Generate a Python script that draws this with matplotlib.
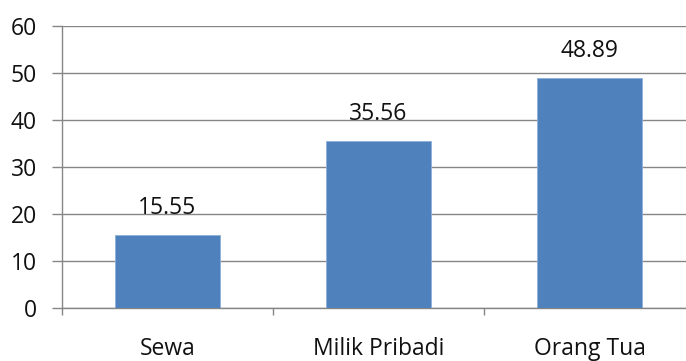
import matplotlib
matplotlib.use('Agg')
import matplotlib.pyplot as plt
import numpy as np

plt.rcParams['font.family'] = ['Open Sans', 'DejaVu Sans']

categories = ['Sewa', 'Milik Pribadi', 'Orang Tua']
values = [15.55, 35.56, 48.89]

W, H = 686, 361
fig = plt.figure(figsize=(W/100, H/100), dpi=100)
# axes box in pixels: left 62, bottom 308, top 26, three 211px categories
ax = fig.add_axes([62/W, (H-308)/H, 633/W, 282/H])

x = np.arange(len(categories))
ax.bar(x, values, width=0.5, color='#4F81BD', edgecolor='#8DAFDB', linewidth=0.6, zorder=3)

for xi, v in zip(x, values):
    ax.annotate(f'{v:.2f}', (xi, v), xytext=(0, 11), textcoords='offset points',
                ha='center', va='bottom', fontsize=16.5, color='#111111', zorder=4)

ax.set_xlim(-0.5, 2.5)
ax.set_ylim(0, 60)
ax.set_yticks(range(0, 61, 10))
ax.yaxis.grid(True, color='#868686', linewidth=1.0, zorder=0)
ax.tick_params(axis='y', length=7, width=1.0, color='#868686', labelsize=16.5, pad=11,
               labelcolor='#111111')

# category labels centred, tick marks on the category borders
ax.set_xticks(x)
ax.set_xticklabels(categories)
ax.tick_params(axis='x', which='major', length=0, labelsize=16.5, pad=21, labelcolor='#111111')
ax.set_xticks(np.arange(-0.5, 3, 1.0), minor=True)
ax.tick_params(axis='x', which='minor', length=5, width=1.0, color='#868686')

for s in ['top', 'right']:
    ax.spines[s].set_visible(False)
for s in ['left', 'bottom']:
    ax.spines[s].set_color('#868686')
    ax.spines[s].set_linewidth(1.0)

fig.savefig('out.png', dpi=100)
